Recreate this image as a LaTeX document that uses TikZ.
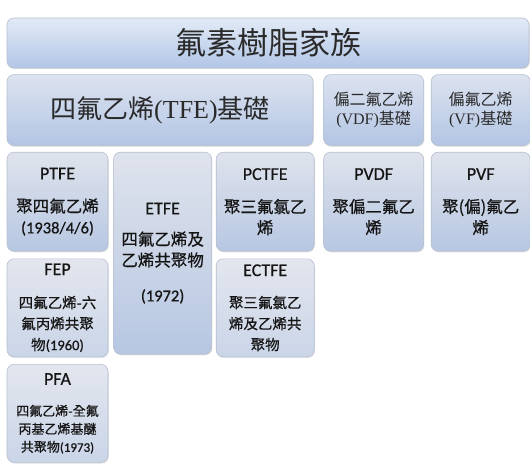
\documentclass[tikz,border=0pt]{standalone}
\usepackage{fontspec}
\usepackage{xcolor}
\usepackage{tikz}
\usetikzlibrary{positioning,shadows}

\setmainfont{Liberation Serif}
\newfontfamily\cjk{Noto Sans CJK TC}
\newfontfamily\cjkb[FakeBold=0.6]{Noto Sans CJK TC}
\newfontfamily\lat[FakeBold=0.6]{Carlito}
\newcommand\headfont{\lat\fontsize{18}{21}\selectfont}

\definecolor{edgegray}{HTML}{B6BFD0}
\definecolor{inkgray}{HTML}{2A2A2A}
\definecolor{inkdark}{HTML}{151515}
\definecolor{titletop}{HTML}{E2EAF6}
\definecolor{titlebot}{HTML}{B2C6E7}
\definecolor{basetop}{HTML}{DCE3F0}
\definecolor{basebot}{HTML}{B3C5E4}
\definecolor{resintop}{HTML}{DFE3EC}
\definecolor{resinbot}{HTML}{B7C7E2}
\definecolor{lighttop}{HTML}{E3E6EE}
\definecolor{lightbot}{HTML}{CAD5E8}

\begin{document}
\begin{tikzpicture}[x=1pt, y=1pt,
    box/.style={draw=edgegray, line width=0.6pt, rounded corners=7pt, inner sep=0pt,
        align=center, text=inkgray,
        drop shadow={shadow xshift=0.8pt, shadow yshift=-1.2pt, opacity=0.22}},
    titlebox/.style={box, top color=titletop, bottom color=titlebot,
        minimum width=522pt, minimum height=50pt, font=\cjk\fontsize{31}{36}\selectfont},
    basebox/.style={box, top color=basetop, bottom color=basebot,
        minimum height=71pt, text=inkgray},
    resinbox/.style={box, top color=resintop, bottom color=resinbot, text=inkdark,
        minimum width=98pt, minimum height=99pt, text width=94pt,
        font=\lat\fontsize{16.5}{21}\selectfont},
    lightbox/.style={resinbox, top color=lighttop, bottom color=lightbot,
        minimum height=98pt, font=\lat\fontsize{14.5}{21}\selectfont},
    tallbox/.style={resinbox, minimum height=202pt}]
    \useasboundingbox (0,0) rectangle (530,-466);

    % Family and bases
    \node[titlebox] (family) at (268,-43) {氟素樹脂家族};
    \node[basebox, minimum width=306pt, font=\fontsize{26}{30}\selectfont,
        below=6pt of family.south west, anchor=north west] (tfe) {{\cjk 四氟乙烯}(TFE){\cjk 基礎}};
    \node[basebox, minimum width=100pt, font=\fontsize{16}{19}\selectfont,
        right=10pt of tfe] (vdf) {{\cjk 偏二氟乙烯}\\(VDF){\cjk 基礎}};
    \node[basebox, minimum width=99pt, font=\fontsize{16}{19}\selectfont,
        right=7pt of vdf] (vf) {{\cjk 偏氟乙烯}\\(VF){\cjk 基礎}};

    % Resins
    \node[resinbox, minimum width=101pt, below=6pt of tfe.south west, anchor=north west] (ptfe)
        {{\headfont PTFE}\\[12pt]{\cjkb 聚四氟乙烯}\\(1938/4/6)};
    \node[tallbox, right=5pt of ptfe.north east, anchor=north west] (etfe)
        {{\headfont ETFE}\\[10pt]{\cjkb 四氟乙烯及}\\{\cjkb 乙烯共聚物}\\[14pt](1972)};
    \node[resinbox, right=4pt of etfe.north east, anchor=north west] (pctfe)
        {{\headfont PCTFE}\\[12pt]{\cjkb 聚三氟氯乙}\\{\cjkb 烯}};
    \node[resinbox, minimum width=100pt, below=6pt of vdf.south west, anchor=north west] (pvdf)
        {{\headfont PVDF}\\[12pt]{\cjkb 聚偏二氟乙}\\{\cjkb 烯}};
    \node[resinbox, minimum width=99pt, below=6pt of vf.south west, anchor=north west] (pvf)
        {{\headfont PVF}\\[12pt]{\cjkb 聚(偏)氟乙}\\{\cjkb 烯}};
    \node[lightbox, minimum width=101pt, below=7pt of ptfe] (fep)
        {{\headfont FEP}\\[12pt]{\cjkb 四氟乙烯-六}\\{\cjkb 氟丙烯共聚}\\{\cjkb 物}(1960)};
    \node[lightbox, below=7pt of pctfe] (ectfe)
        {{\headfont ECTFE}\\[11pt]{\cjkb 聚三氟氯乙}\\{\cjkb 烯及乙烯共}\\{\cjkb 聚物}};
    \node[lightbox, minimum width=101pt, font=\lat\fontsize{13}{18}\selectfont,
        below=7pt of fep] (pfa)
        {{\headfont PFA}\\[13pt]{\cjkb 四氟乙烯-全氟}\\{\cjkb 丙基乙烯基醚}\\{\cjkb 共聚物}(1973)};
\end{tikzpicture}
\end{document}
